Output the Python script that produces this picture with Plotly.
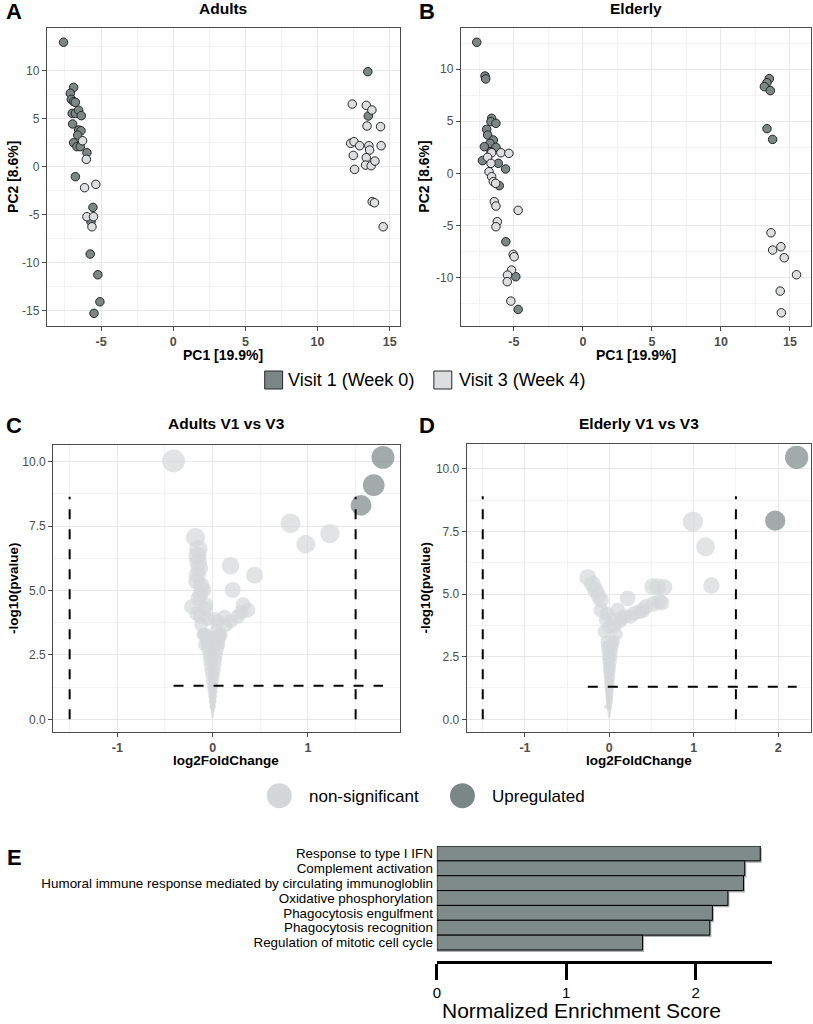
import math
import plotly.graph_objects as go

W, H = 813, 1024
def px(x): return x / W
def py(y): return 1 - y / H

FONT = "Liberation Sans, Arial, sans-serif"
DARK = "#7b8785"
LIGHT = "#dcdedf"
NS = "#d4d7d9"
UP = "#7b8785"
BAR = "#7f8b89"

# ---------------- Panel A: Adults PCA ----------------
A_v1_x = [-7.6, -6.9, -7.13, -7.06, -6.9, -6.78, -7.0, -6.78, -6.55, -6.37, -6.97, -6.55, -6.39, -6.62,
          -6.9, -6.67, -6.44, -5.98, -6.78, -5.56, -5.7, -5.75, -5.22, -5.08, -5.49, 13.49, 13.52]
A_v1_y = [13.0, 8.28, 7.66, 7.03, 6.8, 6.72, 5.57, 5.57, 5.9, 5.33, 4.46, 3.83, 3.76, 3.3,
          2.5, 2.09, 2.09, 1.46, -1.04, -4.25, -5.74, -9.12, -11.28, -14.1, -15.31, 9.92, 5.29]
A_v3_x = [-6.28, -6.02, -6.14, -5.36, -5.98, -5.52, -5.63, 12.41, 13.38, 13.77, 13.43, 14.37, 12.3, 12.53,
          12.92, 13.56, 13.61, 14.41, 12.48, 13.38, 13.33, 13.72, 13.98, 12.57, 13.79, 13.95, 14.55]
A_v3_y = [2.71, 0.77, -2.19, -1.84, -5.22, -5.22, -6.27, 6.54, 6.4, 5.92, 4.25, 4.18, 2.44, 2.61,
          2.19, 2.19, 1.74, 2.19, 1.18, 0.94, 0.17, 0.1, 0.59, -0.28, -3.65, -3.76, -6.27]

# ---------------- Panel B: Elderly PCA ----------------
B_v1_x = [-7.69, -7.09, -7.04, -6.61, -6.66, -6.30, -6.97, -6.9, -6.49, -6.73, -7.14, -6.3, -6.66, -7.28,
          -6.13, -5.6, -6.06, -5.58, -4.86, -4.69, 13.51, 13.34, 13.15, 13.58, 13.34, 13.75]
B_v1_y = [12.58, 9.34, 9.06, 5.28, 4.96, 4.8, 4.22, 3.68, 3.2, 2.88, 2.56, 2.5, 2.08, 1.22,
          0.96, 0.42, -1.18, -6.56, -9.92, -13.06, 9.09, 8.7, 8.32, 7.94, 4.29, 3.26]
B_v3_x = [-6.61, -5.94, -5.36, -6.9, -6.66, -6.8, -6.61, -6.49, -6.32, -6.42, -6.3, -4.69, -6.2, -6.3,
          -5.05, -4.98, -5.17, -5.46, -5.48, -5.22, 13.63, 13.75, 14.35, 14.59, 15.48, 14.3, 14.38]
B_v3_y = [1.98, 1.98, 1.92, 1.54, 0.96, 0.16, -0.32, -0.8, -0.96, -2.72, -3.14, -3.55, -4.64, -5.12,
          -7.78, -8.0, -9.28, -9.76, -10.4, -12.26, -5.7, -7.36, -7.04, -8.1, -9.73, -11.3, -13.38]

PCA_XTICKS = [-5, 0, 5, 10, 15]
A_YTICKS = [-15, -10, -5, 0, 5, 10]
B_YTICKS = [-10, -5, 0, 5, 10]

# ---------------- Panel C: Adults volcano ----------------
C_ns_lfc = [-0.41, 0.817, 0.977, 1.23, -0.18, -0.16, -0.14, -0.17, -0.10, -0.22, -0.07, -0.12, -0.15, -0.13,
            -0.09, 0.188, 0.44, 0.21, 0.32, 0.37, 0.26, 0.125, 0.14, 0.04, 0.08,
            -0.15, -0.15, -0.16, -0.12, -0.13, -0.09, 0.07, -0.1, 0.09, -0.05, 0.02, -0.08, -0.17, 0.06, 0.19, 0.3,
            # funnel centre column
            0.0, 0.0, 0.0, 0.0, 0.0, 0.0, 0.0, 0.0, 0.0, 0.0, 0.0, 0.0, 0.0, 0.0, 0.0, 0.0, 0.0, 0.0, 0.0,
            0.0, 0.0, 0.0, 0.0, 0.0, 0.0, 0.0,
            # funnel left / right edges
            -0.007, -0.009, -0.011, -0.014, -0.018, -0.022, -0.028, -0.034, -0.038, -0.043, -0.048, -0.055,
            -0.06, -0.068, -0.075,
            0.007, 0.009, 0.011, 0.014, 0.018, 0.022, 0.028, 0.034, 0.038, 0.043, 0.048, 0.055,
            0.06, 0.065, 0.07]
C_ns_p = [10.03, 7.61, 6.80, 7.21, 7.06, 6.35, 5.87, 5.36, 5.02, 4.37, 4.44, 3.68, 4.7, 4.0,
          3.3, 5.96, 5.59, 5.02, 4.44, 4.24, 3.98, 3.98, 3.66, 3.47, 3.2,
          6.6, 6.1, 5.6, 5.2, 4.85, 2.9, 2.9, 3.3, 3.3, 3.9, 3.9, 4.3, 4.1, 3.8, 3.8, 4.15,
          0.05, 0.12, 0.2, 0.28, 0.36, 0.45, 0.55, 0.65, 0.75, 0.85, 0.95, 1.1, 1.25, 1.4, 1.55, 1.7, 1.85, 2.0,
          2.15, 2.3, 2.45, 2.6, 2.75, 2.9, 3.05, 3.2,
          0.5, 0.7, 0.9, 1.1, 1.3, 1.5, 1.7, 1.9, 2.1, 2.3, 2.5, 2.7, 2.9, 3.1, 3.3,
          0.5, 0.7, 0.9, 1.1, 1.3, 1.5, 1.7, 1.9, 2.1, 2.3, 2.5, 2.7, 2.9, 3.1, 3.3]
C_up_lfc = [1.787, 1.69, 1.557]
C_up_p = [10.17, 9.09, 8.31]
C_VTOP = 8.64
C_XTICKS = [-1, 0, 1]

# ---------------- Panel D: Elderly volcano ----------------
D_ns_lfc = [0.99, 1.14, 1.21, -0.255, -0.165, -0.098, -0.098, 0.217, 0.512, 0.649, 0.59, 0.433, 0.295, 0.177,
            0.1, 0.059, -0.039, 0.12, 0.08, 0.05, -0.06, 0.36,
            -0.03, 0.03, 0.0, 0.14, 0.25, 0.4, 0.52, 0.62, -0.13, -0.2, 0.57,
            0.0, 0.0, 0.0, 0.0, 0.0, 0.0, 0.0, 0.0, 0.0, 0.0, 0.0, 0.0, 0.0, 0.0, 0.0, 0.0, 0.0, 0.0, 0.0,
            0.0, 0.0, 0.0, 0.0, 0.0, 0.0,
            -0.004, -0.006, -0.008, -0.01, -0.012, -0.013, -0.015, -0.017, -0.019, -0.021, -0.023, -0.026,
            -0.03, -0.032,
            0.004, 0.006, 0.008, 0.01, 0.012, 0.014, 0.017, 0.02, 0.024, 0.028, 0.032, 0.036, 0.04, 0.045]
D_ns_p = [7.89, 6.89, 5.34, 5.66, 5.16, 4.76, 4.36, 4.83, 5.3, 5.27, 4.7, 4.5, 4.23, 4.1,
          4.36, 3.7, 3.96, 3.9, 3.4, 3.1, 3.5, 4.3,
          4.2, 4.0, 3.7, 4.0, 4.1, 4.35, 4.6, 4.65, 4.95, 5.4, 5.3,
          0.05, 0.12, 0.2, 0.28, 0.36, 0.45, 0.55, 0.65, 0.75, 0.85, 0.95, 1.1, 1.25, 1.4, 1.55, 1.7, 1.85, 2.0,
          2.15, 2.3, 2.45, 2.6, 2.75, 2.9,
          0.5, 0.7, 0.9, 1.1, 1.3, 1.5, 1.7, 1.9, 2.1, 2.3, 2.5, 2.7, 2.9, 3.1,
          0.5, 0.7, 0.9, 1.1, 1.3, 1.5, 1.7, 1.9, 2.1, 2.3, 2.5, 2.7, 2.9, 3.1]
D_up_lfc = [2.22, 1.966]
D_up_p = [10.46, 7.93]
D_VTOP = 8.9
D_XTICKS = [-1, 0, 1, 2]
VOLC_YTICKS = [0.0, 2.5, 5.0, 7.5, 10.0]

LFC_THRESH = 1.5
P_THRESH = 1.3

# ---------------- Panel E: enrichment ----------------
E_terms = ["Response to type I IFN", "Complement activation",
           "Humoral immune response mediated by circulating immunogloblin",
           "Oxidative phosphorylation", "Phagocytosis engulfment",
           "Phagocytosis recognition", "Regulation of mitotic cell cycle"]
E_nes = [2.50, 2.38, 2.37, 2.25, 2.13, 2.11, 1.59]
E_XTICKS = [0, 1, 2]

fig = go.Figure()

def add_pca(xv1, yv1, xv3, yv3, xa, ya):
    for xs, ys, col in ((xv1, yv1, DARK), (xv3, yv3, LIGHT)):
        fig.add_trace(go.Scatter(x=xs, y=ys, mode="markers", xaxis=xa, yaxis=ya, showlegend=False,
                                 hoverinfo="skip",
                                 marker=dict(size=8.5, color=col, line=dict(color="#262626", width=1))))

add_pca(A_v1_x, A_v1_y, A_v3_x, A_v3_y, "x", "y")
add_pca(B_v1_x, B_v1_y, B_v3_x, B_v3_y, "x2", "y2")

def vsize(vals):
    return [max(1.0, 7.2 * math.sqrt(max(v, 0))) for v in vals]

def add_volcano(nsx, nsy, upx, upy, vtop, xa, ya):
    fig.add_trace(go.Scatter(x=nsx, y=nsy, mode="markers", xaxis=xa, yaxis=ya, showlegend=False,
                             hoverinfo="skip", marker=dict(size=vsize(nsy), color=NS, line=dict(width=0))))
    fig.add_trace(go.Scatter(x=upx, y=upy, mode="markers", xaxis=xa, yaxis=ya, showlegend=False,
                             hoverinfo="skip", marker=dict(size=vsize(upy), color=UP, line=dict(width=0))))
    allx = nsx + upx
    dash = dict(color="black", width=2, dash="10px,10px")
    for xv in (-LFC_THRESH, LFC_THRESH):
        fig.add_trace(go.Scatter(x=[xv, xv], y=[0, vtop], mode="lines", line=dash, xaxis=xa, yaxis=ya,
                                 showlegend=False, hoverinfo="skip"))
    fig.add_trace(go.Scatter(x=[min(allx), max(allx)], y=[P_THRESH, P_THRESH], mode="lines", line=dash,
                             xaxis=xa, yaxis=ya, showlegend=False, hoverinfo="skip"))

add_volcano(C_ns_lfc, C_ns_p, C_up_lfc, C_up_p, C_VTOP, "x3", "y3")
add_volcano(D_ns_lfc, D_ns_p, D_up_lfc, D_up_p, D_VTOP, "x4", "y4")

# enrichment bars (shadow + bar)
fig.add_trace(go.Bar(x=[v + 0.012 for v in E_nes], y=E_terms, orientation="h", width=1, offset=-0.63,
                     marker=dict(color="#aab1b0", line=dict(width=0)), xaxis="x5", yaxis="y5",
                     showlegend=False, hoverinfo="skip"))
fig.add_trace(go.Bar(x=E_nes, y=E_terms, orientation="h", width=1, offset=-0.5,
                     marker=dict(color=BAR, line=dict(color="black", width=1)), xaxis="x5", yaxis="y5",
                     showlegend=False, hoverinfo="skip"))

def frange(a, b, step):
    out, v = [], a
    while v <= b + 1e-9:
        out.append(round(v, 4))
        v += step
    return out

def frame_axis(dom, rng, tickvals, minor_step, anchor, bold=False, fmt="{:g}"):
    mv = frange(math.floor(rng[0] / minor_step) * minor_step, rng[1], minor_step)
    return dict(domain=dom, range=rng, tickmode="array", tickvals=tickvals,
                ticktext=[fmt.format(v) for v in tickvals],
                showgrid=True, gridcolor="#e8e8e8", gridwidth=1,
                minor=dict(tickmode="array", tickvals=mv, showgrid=True, gridcolor="#f2f2f2",
                           gridwidth=0.7, ticks=""),
                showline=True, mirror=True, linecolor="#4a4a4a", linewidth=1,
                ticks="outside", ticklen=4, tickwidth=1, tickcolor="#4a4a4a",
                tickfont=dict(family=FONT, size=12.5 if bold else 12, color="#4d4d4d",
                              weight="bold" if bold else "normal"),
                zeroline=False, anchor=anchor, fixedrange=True)

layout = dict(
    width=W, height=H, margin=dict(l=0, r=0, t=0, b=0),
    paper_bgcolor="white", plot_bgcolor="white", showlegend=False,
    font=dict(family=FONT, color="black"),
    barmode="overlay",
    xaxis=frame_axis([px(43), px(398)], [-8.76, 15.72], PCA_XTICKS, 2.5, "y", bold=True),
    yaxis=frame_axis([py(326), py(28)], [-16.63, 14.48], A_YTICKS, 2.5, "x"),
    xaxis2=frame_axis([px(459), px(811)], [-8.85, 16.53], PCA_XTICKS, 2.5, "y2", bold=True),
    yaxis2=frame_axis([py(326), py(28)], [-14.65, 13.95], B_YTICKS, 2.5, "x2"),
    xaxis3=frame_axis([px(49.3), px(398)], [-1.674, 1.966], C_XTICKS, 0.5, "y3", bold=True),
    yaxis3=frame_axis([py(731.7), py(445)], [-0.48, 10.65], VOLC_YTICKS, 1.25, "x3", fmt="{:.1f}"),
    xaxis4=frame_axis([px(465), px(811)], [-1.69, 2.39], D_XTICKS, 0.5, "y4", bold=True),
    yaxis4=frame_axis([py(731.7), py(444)], [-0.495, 10.99], VOLC_YTICKS, 1.25, "x4", fmt="{:.1f}"),
    xaxis5=dict(domain=[px(435), px(771.7)], range=[0, 2.59], anchor="y5", showgrid=False, zeroline=False,
                showline=True, linecolor="black", linewidth=3, ticks="outside", ticklen=16, tickwidth=3,
                tickcolor="black", tickmode="array", tickvals=E_XTICKS,
                ticktext=[str(v) for v in E_XTICKS],
                tickfont=dict(family=FONT, size=15, color="black"), fixedrange=True),
    yaxis5=dict(domain=[py(961), py(846)], type="category", categoryorder="array",
                categoryarray=E_terms[::-1], range=[-1.24, 6.5], anchor="x5", showgrid=False,
                zeroline=False, showline=False, ticks="", tickmode="linear", tick0=0, dtick=1,
                ticklabelstandoff=3,
                tickfont=dict(family=FONT, size=13.4, color="black"), fixedrange=True),
)

ann = []
def text(x, y, s, size, bold=False, angle=0, xanchor="center", yanchor="middle", color="black", yref_px=True):
    ann.append(dict(x=px(x), y=py(y) if yref_px else y, xref="paper", yref="paper",
                    text=f"<b>{s}</b>" if bold else s,
                    showarrow=False, xanchor=xanchor, yanchor=yanchor, textangle=angle,
                    font=dict(family=FONT, size=size, color=color)))

# panel letters
for lx, ly, s in ((10, 11, "A"), (425, 11, "B"), (10, 425, "C"), (425, 425, "D"), (11, 857, "E")):
    text(lx, ly, s, 22, bold=True)
# panel titles
text(220.5, 8.5, "Adults", 15.5, bold=True)
text(635, 8.5, "Elderly", 15.5, bold=True)
text(223.6, 423.5, "Adults V1 vs V3", 15.5, bold=True)
text(638, 423.5, "Elderly V1 vs V3", 15.5, bold=True)
# axis titles
text(220.5, 354.5, "PC1 [19.9%]", 14, bold=True)
text(635, 354.5, "PC1 [19.9%]", 14, bold=True)
text(9, 177, "PC2 [8.6%]", 14, bold=True, angle=-90)
text(421.7, 177, "PC2 [8.6%]", 14, bold=True, angle=-90)
text(223.6, 760, "log2FoldChange", 13.5, bold=True)
text(638, 760, "log2FoldChange", 13.5, bold=True)
text(9, 588, "-log10(pvalue)", 13.5, bold=True, angle=-90)
text(422.7, 588, "-log10(pvalue)", 13.5, bold=True, angle=-90)
text(580, 0.0, "Normalized Enrichment Score", 21, yanchor="bottom", yref_px=False)

# legends
text(283, 380, "Visit 1 (Week 0)", 18, xanchor="left")
text(455, 380, "Visit 3 (Week 4)", 18, xanchor="left")
text(304, 796, "non-significant", 17, xanchor="left")
text(488, 796, "Upregulated", 17, xanchor="left")

shapes = [
    dict(type="rect", xref="paper", yref="paper", x0=px(262), x1=px(280), y0=py(389), y1=py(371),
         fillcolor=DARK, line=dict(color="#262626", width=1)),
    dict(type="rect", xref="paper", yref="paper", x0=px(432), x1=px(450), y0=py(389), y1=py(371),
         fillcolor=LIGHT, line=dict(color="#262626", width=1)),
    dict(type="circle", xref="paper", yref="paper", x0=px(264.2), x1=px(289.2), y0=py(808.2), y1=py(783.2),
         fillcolor=NS, line=dict(width=0)),
    dict(type="circle", xref="paper", yref="paper", x0=px(448.2), x1=px(473.2), y0=py(808.2), y1=py(783.2),
         fillcolor=UP, line=dict(width=0)),
]

layout["annotations"] = ann
layout["shapes"] = shapes
fig.update_layout(**layout)
fig.write_html("out.html")
